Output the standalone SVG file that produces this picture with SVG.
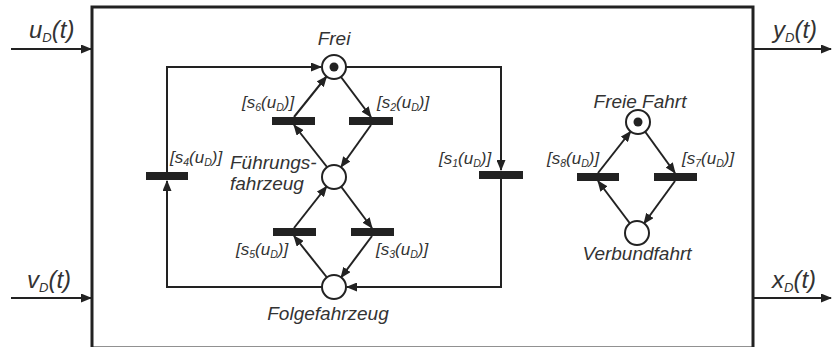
<svg xmlns="http://www.w3.org/2000/svg" width="832" height="347" viewBox="0 0 832 347">
<style>
.t{font-family:"Liberation Sans",Arial,sans-serif;font-style:italic;fill:#333}
.io{font-size:24px}
.lb{font-size:19px}
.g{font-size:17px}
.s{font-size:10.5px}
.si{font-size:13px}
.ln{fill:none;stroke:#222;stroke-width:2}
.pl{fill:#fff;stroke:#222;stroke-width:2}
.tk{fill:#222}
.tr{fill:#222}
</style>
<defs>
<marker id="ah" markerUnits="userSpaceOnUse" markerWidth="11" markerHeight="9" refX="10" refY="4.5" orient="auto">
<path d="M0,0 L11,4.5 L0,9 z" fill="#222"/>
</marker>
</defs>
<rect id="box" x="92" y="7" width="661" height="341" fill="none" stroke="#222" stroke-width="3"/>
<g id="connectors" class="ln" marker-end="url(#ah)">
<line x1="11" y1="49" x2="91" y2="49"/>
<line x1="11" y1="298" x2="91" y2="298"/>
<line x1="754" y1="49" x2="831" y2="49"/>
<line x1="754" y1="298" x2="831" y2="298"/>
<path d="M167,172 V67 H321"/>
<path d="M322,287 H167 V181"/>
<path d="M346,67 H501 V170"/>
<path d="M501,179 V287 H347"/>
<line x1="294" y1="117" x2="326.5" y2="76.5"/>
<line x1="341" y1="77" x2="371" y2="117"/>
<line x1="371" y1="125" x2="341" y2="167"/>
<line x1="327" y1="167" x2="294" y2="125"/>
<line x1="327" y1="277.5" x2="294" y2="236"/>
<line x1="294" y1="228" x2="326.6" y2="186.5"/>
<line x1="341" y1="186.5" x2="372" y2="228"/>
<line x1="372" y1="236" x2="341" y2="277.5"/>
<line x1="598" y1="173" x2="630.6" y2="131.5"/>
<line x1="645" y1="131.5" x2="675" y2="173"/>
<line x1="675" y1="181" x2="644" y2="223.5"/>
<line x1="630" y1="223.5" x2="598" y2="181"/>
</g>
<g id="io-labels" class="t io">
<text x="29" y="38">u<tspan class="si" dy="4">D</tspan><tspan dy="-4">(t)</tspan></text>
<text x="27" y="288">v<tspan class="si" dy="4">D</tspan><tspan dy="-4">(t)</tspan></text>
<text x="773" y="38">y<tspan class="si" dy="4">D</tspan><tspan dy="-4">(t)</tspan></text>
<text x="772" y="288">x<tspan class="si" dy="4">D</tspan><tspan dy="-4">(t)</tspan></text>
</g>
<g id="p-frei"><circle class="pl" cx="334" cy="67" r="12"/><circle class="tk" cx="334" cy="67" r="4.5"/><text class="t lb" x="334" y="45" text-anchor="middle">Frei</text></g>
<g id="p-fuehrung"><circle class="pl" cx="334" cy="177" r="12"/><text class="t lb" x="230" y="169">Führungs-</text><text class="t lb" x="230" y="190">fahrzeug</text></g>
<g id="p-folge"><circle class="pl" cx="334" cy="287" r="12"/><text class="t lb" x="328" y="320" text-anchor="middle">Folgefahrzeug</text></g>
<g id="p-freiefahrt"><circle class="pl" cx="638" cy="122" r="12"/><circle class="tk" cx="638" cy="122" r="4.5"/><text class="t lb" x="640" y="108" text-anchor="middle">Freie Fahrt</text></g>
<g id="p-verbund"><circle class="pl" cx="637" cy="233" r="12"/><text class="t lb" x="637" y="260" text-anchor="middle">Verbundfahrt</text></g>
<g id="t-s6"><rect class="tr" x="272" y="117" width="43" height="8"/><text class="t g" x="242" y="108">[s<tspan class="s" dy="3">6</tspan><tspan dy="-3">(u</tspan><tspan class="s" dy="3">D</tspan><tspan dy="-3">)]</tspan></text></g>
<g id="t-s2"><rect class="tr" x="349" y="117" width="44" height="8"/><text class="t g" x="377" y="108">[s<tspan class="s" dy="3">2</tspan><tspan dy="-3">(u</tspan><tspan class="s" dy="3">D</tspan><tspan dy="-3">)]</tspan></text></g>
<g id="t-s5"><rect class="tr" x="273" y="228" width="43" height="8"/><text class="t g" x="236" y="255">[s<tspan class="s" dy="3">5</tspan><tspan dy="-3">(u</tspan><tspan class="s" dy="3">D</tspan><tspan dy="-3">)]</tspan></text></g>
<g id="t-s3"><rect class="tr" x="351" y="228" width="43" height="8"/><text class="t g" x="376" y="255">[s<tspan class="s" dy="3">3</tspan><tspan dy="-3">(u</tspan><tspan class="s" dy="3">D</tspan><tspan dy="-3">)]</tspan></text></g>
<g id="t-s4"><rect class="tr" x="146" y="172" width="42" height="8"/><text class="t g" x="170" y="163">[s<tspan class="s" dy="3">4</tspan><tspan dy="-3">(u</tspan><tspan class="s" dy="3">D</tspan><tspan dy="-3">)]</tspan></text></g>
<g id="t-s1"><rect class="tr" x="479" y="171" width="44" height="8"/><text class="t g" x="439" y="164">[s<tspan class="s" dy="3">1</tspan><tspan dy="-3">(u</tspan><tspan class="s" dy="3">D</tspan><tspan dy="-3">)]</tspan></text></g>
<g id="t-s8"><rect class="tr" x="577" y="173" width="42" height="8"/><text class="t g" x="547" y="164">[s<tspan class="s" dy="3">8</tspan><tspan dy="-3">(u</tspan><tspan class="s" dy="3">D</tspan><tspan dy="-3">)]</tspan></text></g>
<g id="t-s7"><rect class="tr" x="654" y="173" width="43" height="8"/><text class="t g" x="682" y="164">[s<tspan class="s" dy="3">7</tspan><tspan dy="-3">(u</tspan><tspan class="s" dy="3">D</tspan><tspan dy="-3">)]</tspan></text></g>
</svg>
